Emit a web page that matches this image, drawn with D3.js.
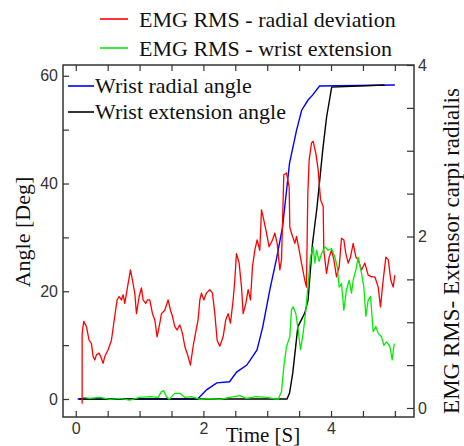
<!DOCTYPE html>
<html>
<head>
<meta charset="utf-8">
<script src="https://cdn.jsdelivr.net/npm/d3@7"></script>
<style>
  body { margin: 0; background: #fff; }
  svg { display: block; }
</style>
</head>
<body>
<script>
// Angle traces, [time (s), angle (deg)]
const radialAngle = [
    [0.03, 0], [1.91, 0], [2.05, 1.7], [2.21, 3.0], [2.41, 3.2], [2.52, 5.0], [2.68, 6.3],
    [2.84, 9.1], [2.93, 13.4], [3.04, 20.2], [3.15, 26.3], [3.24, 31.9], [3.35, 43.8],
    [3.46, 49.9], [3.54, 53.6], [3.64, 55.5], [3.71, 56.4], [3.82, 58.1], [5.0, 58.3]
];
const extensionAngle = [
    [0.05, 0], [3.31, 0], [3.35, 1.1], [3.40, 4.8], [3.48, 13.4], [3.59, 16.0], [3.64, 18.4],
    [3.71, 28.9], [3.78, 35.6], [3.87, 46.2], [3.93, 52.3], [4.01, 57.9], [4.84, 58.3]
];

// EMG RMS traces, [time (s), rms] on right axis
const emgRadial = [
    [0.10, 0.05], [0.10, 0.87], [0.125, 1.01], [0.167, 0.95], [0.209, 0.79], [0.246, 0.75],
    [0.272, 0.60], [0.298, 0.56], [0.324, 0.62], [0.366, 0.64], [0.402, 0.58], [0.428, 0.52],
    [0.455, 0.60], [0.507, 0.68], [0.559, 0.79], [0.611, 1.07], [0.648, 1.26], [0.679, 1.30],
    [0.716, 1.26], [0.742, 1.32], [0.768, 1.22], [0.820, 1.45], [0.857, 1.61], [0.888, 1.49],
    [0.925, 1.34], [0.951, 1.10], [0.993, 1.30], [1.029, 1.40], [1.055, 1.26], [1.097, 1.22],
    [1.123, 1.26], [1.160, 1.26], [1.202, 1.10], [1.238, 1.03], [1.275, 0.83], [1.317, 0.99],
    [1.343, 1.10], [1.395, 1.14], [1.447, 1.26], [1.484, 1.14], [1.515, 1.07], [1.552, 0.95],
    [1.588, 0.91], [1.630, 0.97], [1.672, 0.87], [1.708, 0.72], [1.761, 0.60], [1.797, 0.50],
    [1.839, 0.72], [1.881, 0.89], [1.917, 1.03], [1.944, 1.26], [1.970, 1.34], [2.006, 1.26],
    [2.048, 1.34], [2.100, 1.38], [2.142, 1.34], [2.179, 1.10], [2.215, 0.79], [2.257, 0.72],
    [2.309, 0.83], [2.351, 1.03], [2.388, 1.10], [2.424, 0.99], [2.466, 1.26], [2.492, 1.49],
    [2.518, 1.80], [2.560, 1.69], [2.597, 1.41], [2.623, 1.10], [2.665, 1.22], [2.701, 1.38],
    [2.738, 1.26], [2.769, 1.65], [2.806, 1.84], [2.842, 1.96], [2.884, 1.84], [2.910, 2.31],
    [2.947, 2.19], [2.989, 2.04], [3.030, 1.88], [3.083, 1.96], [3.119, 2.04], [3.156, 1.92],
    [3.198, 1.61], [3.224, 1.73], [3.260, 2.72], [3.302, 2.74], [3.344, 2.58], [3.354, 2.11],
    [3.380, 2.04], [3.433, 1.92], [3.459, 2.00], [3.501, 1.84], [3.537, 1.69], [3.589, 1.49],
    [3.615, 1.41], [3.636, 2.50], [3.657, 2.89], [3.694, 3.09], [3.720, 3.11], [3.762, 2.97],
    [3.798, 2.78], [3.835, 2.43], [3.877, 2.35], [3.887, 1.84], [3.929, 1.57], [3.971, 1.76],
    [4.007, 1.84], [4.044, 1.73], [4.086, 1.53], [4.128, 1.65], [4.164, 1.98], [4.201, 1.96],
    [4.232, 1.80], [4.269, 1.69], [4.305, 1.76], [4.347, 1.92], [4.389, 1.76], [4.425, 1.73],
    [4.478, 1.61], [4.530, 1.69], [4.582, 1.55], [4.634, 1.53], [4.687, 1.53], [4.739, 1.41],
    [4.775, 1.18], [4.817, 1.49], [4.859, 1.76], [4.896, 1.73], [4.937, 1.49], [4.974, 1.41],
    [5.000, 1.55]
];
const emgExtension = [
    [0.115, 0.124], [0.219, 0.113], [0.376, 0.124], [0.533, 0.101], [0.690, 0.113], [0.846, 0.093],
    [1.003, 0.124], [1.160, 0.132], [1.290, 0.124], [1.343, 0.190], [1.379, 0.202], [1.421, 0.132],
    [1.463, 0.101], [1.552, 0.171], [1.630, 0.171], [1.708, 0.124], [1.813, 0.132], [1.944, 0.101],
    [2.100, 0.109], [2.257, 0.101], [2.414, 0.124], [2.571, 0.144], [2.675, 0.113], [2.832, 0.132],
    [2.989, 0.124], [3.171, 0.101], [3.224, 0.190], [3.260, 0.482], [3.302, 0.715], [3.354, 0.832],
    [3.380, 1.143], [3.406, 1.18], [3.448, 1.10], [3.485, 0.91], [3.521, 0.68], [3.563, 0.87],
    [3.605, 1.14], [3.642, 1.45], [3.678, 1.76], [3.720, 1.88], [3.746, 1.69], [3.772, 1.84],
    [3.814, 1.71], [3.851, 1.80], [3.903, 1.88], [3.955, 1.84], [4.007, 1.86], [4.060, 1.76],
    [4.096, 1.65], [4.128, 1.41], [4.164, 1.45], [4.201, 1.14], [4.242, 1.38], [4.284, 1.49],
    [4.321, 1.34], [4.347, 1.49], [4.389, 1.61], [4.425, 1.76], [4.478, 1.57], [4.514, 1.41],
    [4.546, 1.07], [4.582, 1.26], [4.619, 1.30], [4.660, 0.89], [4.702, 0.95], [4.739, 0.87],
    [4.791, 0.83], [4.828, 0.73], [4.869, 0.77], [4.922, 0.72], [4.958, 0.56], [4.990, 0.75]
];

const xTicks = d3.range(0, 5.01, 0.5);
const xLabels = [0, 2, 4];
const leftTicks = d3.range(0, 61, 10);
const leftLabels = [0, 20, 40, 60];
const rightTicks = d3.range(0, 4.01, 0.5);
const rightLabels = [0, 2, 4];

const topLegend = [
    { name: "EMG RMS - radial deviation", color: "#ff0000" },
    { name: "EMG RMS - wrist extension", color: "#00ee00" }
];
const innerLegend = [
    { name: "Wrist radial angle", color: "#0000ff" },
    { name: "Wrist extension angle", color: "#000000" }
];

const W = 464, H = 446;
const frame = { left: 63, right: 414, top: 65, bottom: 417 };
const serif = "'Liberation Serif', 'Times New Roman', serif";
const sans = "'Liberation Sans', Arial, sans-serif";

const svg = d3.select("body").append("svg")
    .attr("width", W)
    .attr("height", H);

const x = d3.scaleLinear().domain([-0.2, 5.3]).range([frame.left, frame.right]);
const yL = d3.scaleLinear().domain([-3.34, 62]).range([frame.bottom, frame.top]);
const yR = d3.scaleLinear().domain([-0.105, 4]).range([frame.bottom, frame.top]);

// clip so nothing spills past the frame
svg.append("clipPath").attr("id", "clip")
    .append("rect")
    .attr("x", frame.left).attr("y", frame.top)
    .attr("width", frame.right - frame.left)
    .attr("height", frame.bottom - frame.top);

const plot = svg.append("g").attr("clip-path", "url(#clip)");

const lineL = d3.line().x(d => x(d[0])).y(d => yL(d[1]));
const lineR = d3.line().x(d => x(d[0])).y(d => yR(d[1]));

plot.append("path").datum(radialAngle)
    .attr("d", lineL).attr("fill", "none")
    .attr("stroke", "#0000ff").attr("stroke-width", 1.4);
plot.append("path").datum(extensionAngle)
    .attr("d", lineL).attr("fill", "none")
    .attr("stroke", "#000").attr("stroke-width", 1.4);
plot.append("path").datum(emgRadial)
    .attr("d", lineR).attr("fill", "none")
    .attr("stroke", "#ff0000").attr("stroke-width", 1.3)
    .attr("stroke-linejoin", "round");
plot.append("path").datum(emgExtension)
    .attr("d", lineR).attr("fill", "none")
    .attr("stroke", "#00ee00").attr("stroke-width", 1.3)
    .attr("stroke-linejoin", "round");

// Axes (ticks point inward)
const styleAxis = g => {
    g.select(".domain").remove();
    g.selectAll(".tick line").attr("stroke", "#333").attr("stroke-width", 1.2);
    g.selectAll(".tick text")
        .attr("fill", "#333")
        .style("font-family", sans)
        .style("font-size", "16px");
};

svg.append("g")
    .attr("transform", `translate(0,${frame.bottom})`)
    .call(d3.axisBottom(x).tickValues(xTicks).tickSize(-6).tickPadding(6)
        .tickFormat(d => xLabels.includes(d) ? d : ""))
    .call(styleAxis);

svg.append("g")
    .attr("transform", `translate(0,${frame.top})`)
    .call(d3.axisTop(x).tickValues(xTicks).tickSize(-6).tickFormat(""))
    .call(styleAxis);

svg.append("g")
    .attr("transform", `translate(${frame.left},0)`)
    .call(d3.axisLeft(yL).tickValues(leftTicks).tickSize(-6).tickPadding(5)
        .tickFormat(d => leftLabels.includes(d) ? d : ""))
    .call(styleAxis);

svg.append("g")
    .attr("transform", `translate(${frame.right},0)`)
    .call(d3.axisRight(yR).tickValues(rightTicks).tickSize(-7).tickPadding(4)
        .tickFormat(d => rightLabels.includes(d) ? d : ""))
    .call(styleAxis);

// Frame
svg.append("rect")
    .attr("x", frame.left).attr("y", frame.top)
    .attr("width", frame.right - frame.left)
    .attr("height", frame.bottom - frame.top)
    .attr("fill", "none")
    .attr("stroke", "#333")
    .attr("stroke-width", 1.5);

// Axis titles
svg.append("text")
    .attr("transform", "translate(30,232) rotate(-90)")
    .attr("text-anchor", "middle")
    .style("font-family", serif)
    .style("font-size", "22px")
    .attr("fill", "#111")
    .text("Angle [Deg]");

svg.append("text")
    .attr("transform", "translate(459,251) rotate(-90)")
    .attr("text-anchor", "middle")
    .style("font-family", serif)
    .style("font-size", "23px")
    .attr("fill", "#111")
    .text("EMG RMS- Extensor carpi radialis");

svg.append("text")
    .attr("x", 263).attr("y", 442)
    .attr("text-anchor", "middle")
    .style("font-family", serif)
    .style("font-size", "21px")
    .attr("fill", "#111")
    .text("Time [S]");

// Top legend (EMG)
const tl = svg.append("g");
topLegend.forEach((d, i) => {
    const yy = 19 + i * 29;
    tl.append("line")
        .attr("x1", 100).attr("x2", 128)
        .attr("y1", yy).attr("y2", yy)
        .attr("stroke", d.color).attr("stroke-width", 1.6);
    tl.append("text")
        .attr("x", 139).attr("y", yy + 8)
        .style("font-family", serif)
        .style("font-size", "22px")
        .attr("fill", "#111")
        .text(d.name);
});

// Inner legend (angles)
const il = svg.append("g");
innerLegend.forEach((d, i) => {
    const yy = 86 + i * 26;
    il.append("line")
        .attr("x1", 68).attr("x2", 94)
        .attr("y1", yy).attr("y2", yy)
        .attr("stroke", d.color).attr("stroke-width", 1.6);
    il.append("text")
        .attr("x", 95).attr("y", yy + 7)
        .style("font-family", serif)
        .style("font-size", "22px")
        .attr("fill", "#111")
        .text(d.name);
});
</script>
</body>
</html>
